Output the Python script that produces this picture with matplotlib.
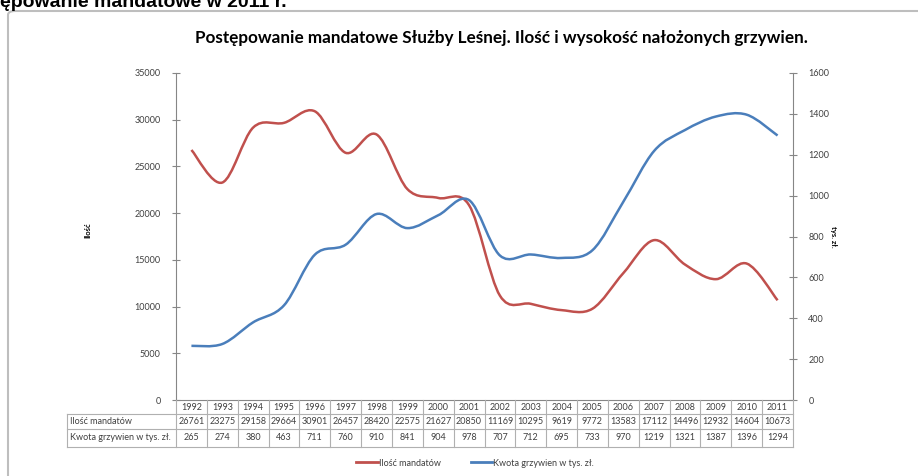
import matplotlib
matplotlib.use("Agg")
import matplotlib.pyplot as plt
import matplotlib.transforms as mtransforms
from matplotlib.path import Path
from matplotlib.patches import PathPatch, FancyBboxPatch
from matplotlib.lines import Line2D

years = ["1992", "1993", "1994", "1995", "1996", "1997", "1998", "1999", "2000", "2001",
         "2002", "2003", "2004", "2005", "2006", "2007", "2008", "2009", "2010", "2011"]
mandaty = [26761, 23275, 29158, 29664, 30901, 26457, 28420, 22575, 21627, 20850,
           11169, 10295, 9619, 9772, 13583, 17112, 14496, 12932, 14604, 10673]
kwota = [265, 274, 380, 463, 711, 760, 910, 841, 904, 978,
         707, 712, 695, 733, 970, 1219, 1321, 1387, 1396, 1294]
row_labels = ["Ilość mandatów", "Kwota grzywien w tys. zł."]
left_ticks = [0, 5000, 10000, 15000, 20000, 25000, 30000, 35000]
right_ticks = [0, 200, 400, 600, 800, 1000, 1200, 1400, 1600]

RED = "#C0504D"
BLUE = "#4A7EBB"
AXC = "#868686"
TXT = "#404040"
FONT = ["Lato", "DejaVu Sans"]

W, H = 918, 476
plt.rcParams["font.family"] = FONT


def fx(px):
    return px / W


def fy(py):
    return 1 - py / H


def smooth_path(xs, ys):
    # Excel-like smoothed line: cubic bezier through the points
    n = len(xs)
    verts = [(xs[0], ys[0])]
    codes = [Path.MOVETO]
    for i in range(n - 1):
        a = i - 1 if i > 0 else i
        b = i + 2 if i + 2 < n else i + 1
        c1 = (xs[i] + (xs[i + 1] - xs[a]) / 6, ys[i] + (ys[i + 1] - ys[a]) / 6)
        c2 = (xs[i + 1] - (xs[b] - xs[i]) / 6, ys[i + 1] - (ys[b] - ys[i]) / 6)
        verts += [c1, c2, (xs[i + 1], ys[i + 1])]
        codes += [Path.CURVE4] * 3
    return Path(verts, codes)


fig = plt.figure(figsize=(W / 100, H / 100), dpi=100)
fig.patch.set_facecolor("white")

# outer chart frame (cut off by the screenshot)
fig.add_artist(FancyBboxPatch((fx(8), fy(560)), fx(1000), 549 / H,
                              boxstyle="round,pad=0,rounding_size=0.008",
                              transform=fig.transFigure, fill=False,
                              edgecolor="#BEBEBE", linewidth=1.5))

# cut heading from the page above the chart
fig.text(0, fy(7), "ępowanie mandatowe w 2011 r.", fontsize=14, fontweight="bold",
         family=["Liberation Sans", "DejaVu Sans"], ha="left", va="baseline", color="black")

x0, x1, y0, y1 = 176, 793, 73, 400
ax = fig.add_axes([fx(x0), fy(y1), fx(x1 - x0), (y1 - y0) / H])
ax2 = ax.twinx()

xs = list(range(len(years)))
ax.add_patch(PathPatch(smooth_path(xs, mandaty), fill=False, edgecolor=RED, linewidth=1.8))
ax2.add_patch(PathPatch(smooth_path(xs, kwota), fill=False, edgecolor=BLUE, linewidth=1.8))

ax.set_xlim(-0.5, len(years) - 0.5)
ax.set_ylim(0, 35000)
ax2.set_ylim(0, 1600)
ax.set_yticks(left_ticks)
ax2.set_yticks(right_ticks)
ax.set_xticks([])

for a in (ax, ax2):
    for s in a.spines.values():
        s.set_visible(False)
    a.tick_params(axis="y", direction="inout", length=6, width=0.8, color=AXC,
                  labelsize=6.5, labelcolor=TXT, pad=8)
    a.set_facecolor("none")
ax.spines["left"].set_visible(True)
ax.spines["left"].set_color(AXC)
ax.spines["bottom"].set_visible(True)
ax.spines["bottom"].set_color(AXC)
ax2.spines["right"].set_visible(True)
ax2.spines["right"].set_color(AXC)

# axis titles
fig.text(fx(88), fy(230), "Ilość", rotation=90, fontsize=5.5, fontweight="bold",
         ha="center", va="center", color="black")
fig.text(fx(833), fy(237), "tys. zł.", rotation=270, fontsize=5.5, fontweight="bold",
         ha="center", va="center", color="black")

# title
fig.text(fx(501), fy(38), "Postępowanie mandatowe Służby Leśnej. Ilość i wysokość nałożonych grzywien.",
         fontsize=12.3, fontweight="bold", ha="center", va="center", color="black")

# data table below the axis
tr = mtransforms.blended_transform_factory(ax.transData, fig.transFigure)
rows_y = [400, 414, 429, 447]
grid = dict(color="#B0B0B0", linewidth=0.8)
for i in range(len(years) + 1):
    fig.add_artist(Line2D([i - 0.5, i - 0.5], [fy(rows_y[0]), fy(rows_y[-1])], transform=tr, **grid))
for yy in rows_y[1:]:
    fig.add_artist(Line2D([fx(67), fx(x1)], [fy(yy), fy(yy)], transform=fig.transFigure, **grid))
fig.add_artist(Line2D([fx(67), fx(67)], [fy(rows_y[1]), fy(rows_y[-1])], transform=fig.transFigure, **grid))

for i, yr in enumerate(years):
    fig.text(i, fy((rows_y[0] + rows_y[1]) / 2), yr, transform=tr, fontsize=6.5,
             ha="center", va="center", color=TXT)
    fig.text(i, fy((rows_y[1] + rows_y[2]) / 2), str(mandaty[i]), transform=tr, fontsize=6.5,
             ha="center", va="center", color=TXT)
    fig.text(i, fy((rows_y[2] + rows_y[3]) / 2), str(kwota[i]), transform=tr, fontsize=6.5,
             ha="center", va="center", color=TXT)
for k, lab in enumerate(row_labels):
    fig.text(fx(70), fy((rows_y[k + 1] + rows_y[k + 2]) / 2), lab, fontsize=6.5,
             ha="left", va="center", color=TXT)

# legend
handles = [Line2D([], [], color=RED, linewidth=2), Line2D([], [], color=BLUE, linewidth=2)]
fig.legend(handles, row_labels, loc="center", bbox_to_anchor=(fx(475), fy(463)), ncol=2,
           frameon=False, fontsize=6.5, handlelength=2.4, handletextpad=0.1,
           columnspacing=3.3, labelcolor=TXT)

fig.savefig("out.png", dpi=100)
